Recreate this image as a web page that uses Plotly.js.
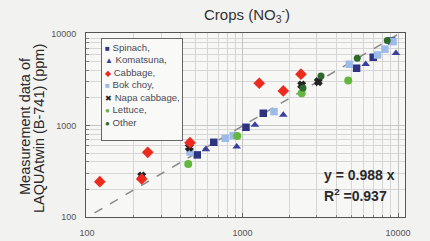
<!DOCTYPE html>
<html>
<head>
<meta charset="utf-8">
<script src="https://cdn.plot.ly/plotly-3.0.1.min.js"></script>
<style>html,body{margin:0;padding:0;background:#f2f2f0;}#chart{width:430px;height:241px;}</style>
</head>
<body>
<div id="chart"></div>
<script>
// ---- data (ion-meter reference value vs LAQUAtwin reading, ppm) ----
const seriesNames = ["Spinach,", "Komatsuna,", "Cabbage,", "Bok choy,", "Napa cabbage,", "Lettuce,", "Other"];

const spinachX = [512, 654, 1053, 1361, 5420, 6930, 9100];
const spinachY = [477, 655, 955, 1359, 4217, 5560, 8370];

const komatsunaX = [582, 918, 1203, 1830, 6196, 9700];
const komatsunaY = [549, 586, 1012, 1303, 4666, 6150];

const cabbageX = [121, 225, 246, 460, 1282, 1830, 2377];
const cabbageY = [243, 260, 509, 649, 2891, 2383, 3628];

const bokchoyX = [460, 775, 873, 1594, 4862, 7390, 8240, 9290];
const bokchoyY = [513, 724, 774, 1416, 4666, 5890, 6810, 8240];

const napaX = [225, 455, 2403, 3073];
const napaY = [281, 578, 2771, 3011];

const lettuceX = [448, 926, 2403, 4786];
const lettuceY = [380, 767, 2248, 3090];

const otherX = [2449, 3199, 5470, 8530];
const otherY = [2570, 3475, 5420, 8450];

const fitSlope = 0.988;
const fitR2 = 0.937;
const fitX = [112, 10000];

// ---- styles ----
const colors = ["#2e3480", "#3b3f9c", "#ec2a1e", "#9cbbe9", "#222222", "#62b83c", "#2f6a2c"];
const symbols = ["square", "triangle-up", "diamond", "square", "x", "circle", "circle"];
const sizes = [7.5, 7.5, 9, 7.5, 6, 8, 7];
const glyphs = ["\u25A0", "\u25B2", "\u25C6", "\u25A0", "\u2716", "\u25CF", "\u25CF"];

const xs = [spinachX, komatsunaX, cabbageX, bokchoyX, napaX, lettuceX, otherX];
const ys = [spinachY, komatsunaY, cabbageY, bokchoyY, napaY, lettuceY, otherY];

const traces = [{
  x: fitX, y: fitX.map(v => v * fitSlope), mode: "lines", type: "scatter",
  line: {color: "#8a8a8a", width: 1.5, dash: "dash"}, hoverinfo: "skip", showlegend: false
}];
[0, 1, 3, 4, 2, 5, 6].forEach(i => {
  traces.push({
    x: xs[i], y: ys[i], name: seriesNames[i], type: "scatter", mode: "markers",
    marker: {symbol: symbols[i], size: sizes[i], color: colors[i],
             line: {width: i === 4 ? 1.6 : 0, color: colors[i]}},
    showlegend: false
  });
});

const W = 430, H = 241, L = 86, R = 25, T = 33, B = 24;
const pw = W - L - R, ph = H - T - B;
const px = v => (v - L) / pw;
const py = v => (H - B - v) / ph;

const legendText = seriesNames.map((n, i) =>
  '<span style="color:' + colors[i] + ';font-size:8px">' + glyphs[i] + '</span> ' + n
).join("<br>");

const axisBase = {
  type: "log", tickformat: "d", dtick: 1, tick0: 0,
  showgrid: true, gridcolor: "#c4c4c4", gridwidth: 1,
  showline: true, linecolor: "#555", linewidth: 1, mirror: true,
  ticks: "inside", ticklen: 4, tickcolor: "#666",
  tickfont: {family: "Liberation Sans, Arial, sans-serif", size: 9, color: "#555"},
  ticklabelstandoff: 7, zeroline: false,
  minor: {dtick: "D1", showgrid: true, gridcolor: "#d6d6d6", gridwidth: 1,
          ticks: "inside", ticklen: 2.5, tickcolor: "#888"}
};

const layout = {
  width: W, height: H,
  margin: {l: L, r: R, t: T, b: B},
  paper_bgcolor: "#f2f2f0", plot_bgcolor: "#f7f7f5",
  font: {family: "Liberation Sans, Arial, sans-serif", color: "#333"},
  title: {text: "Crops (NO<sub>3</sub><sup>-</sup>)", x: 247 / W, xanchor: "center",
          y: 1 - 15 / H, yanchor: "middle",
          font: {family: "Liberation Sans, Arial, sans-serif", size: 15, color: "#333"}},
  xaxis: Object.assign({}, axisBase, {range: [1.994, 4.045]}),
  yaxis: Object.assign({}, axisBase, {range: [2, 4.01]}),
  showlegend: false,
  annotations: [
    {xref: "paper", yref: "paper", x: px(25), y: py(126), xanchor: "center", yanchor: "middle",
     textangle: -90, showarrow: false, text: "Measurement data of",
     font: {size: 14.5, color: "#2a2a2a"}},
    {xref: "paper", yref: "paper", x: px(38.5), y: py(128.5), xanchor: "center", yanchor: "middle",
     textangle: -90, showarrow: false, text: "LAQUAtwin (B-741) (ppm)",
     font: {size: 14.5, color: "#2a2a2a"}},
    {xref: "paper", yref: "paper", x: px(322), y: py(175), xanchor: "left", yanchor: "middle",
     showarrow: false, text: "<b>y = " + fitSlope.toFixed(3) + " x</b>",
     font: {size: 14, color: "#2a2a2a"}},
    {xref: "paper", yref: "paper", x: px(322), y: py(195), xanchor: "left", yanchor: "middle",
     showarrow: false, text: "<b>R<sup>2</sup> =" + fitR2.toFixed(3) + "</b>",
     font: {size: 14, color: "#2a2a2a"}},
    {xref: "paper", yref: "paper", x: px(100.5), y: py(37.5), xanchor: "left", yanchor: "top",
     showarrow: false, text: legendText, align: "left", valign: "top",
     width: 74, height: 95, borderpad: 3, bordercolor: "#666", borderwidth: 1, bgcolor: "#f9f9f7",
     font: {size: 9.6, color: "#4a4a58"}}
  ]
};

Plotly.newPlot("chart", traces, layout, {staticPlot: true, displayModeBar: false});
</script>
</body>
</html>
